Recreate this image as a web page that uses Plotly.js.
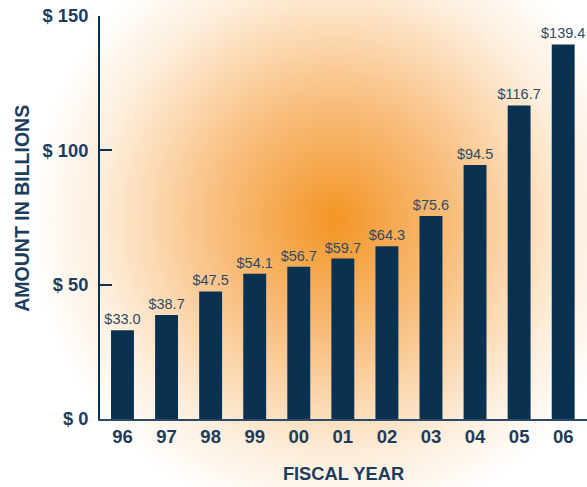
<!DOCTYPE html>
<html>
<head>
<meta charset="utf-8">
<script src="https://cdn.plot.ly/plotly-3.0.1.min.js"></script>
<style>
html,body{margin:0;padding:0;background:#ffffff;}
#chart{width:587px;height:487px;
background: radial-gradient(circle 305px at 335px 220px, #f39524 0%, #f5a548 15%, #f8bd7c 38%, #fbd6ac 58%, #fdeedc 78%, #ffffff 100%);}
</style>
</head>
<body>
<div id="chart"></div>
<script>
const years = ["96","97","98","99","00","01","02","03","04","05","06"];
const amounts = [33.0, 38.7, 47.5, 54.1, 56.7, 59.7, 64.3, 75.6, 94.5, 116.7, 139.4];
const yTickVals = [0, 50, 100, 150];
const yTickText = ["$ 0", "$ 50", "$ 100", "$ 150"];

const navy = "#0b3151";
const textNavy = "#1d3d5c";
const fam = "Liberation Sans, Arial, sans-serif";

const trace = {
  type: "bar",
  x: years,
  y: amounts,
  marker: {color: navy},
  width: 0.52,
  text: amounts.map(v => "$" + v.toFixed(1)),
  textposition: "outside",
  constraintext: "none",
  textfont: {family: fam, size: 14.5, color: "#2d4a66"},
  cliponaxis: false,
  hoverinfo: "skip"
};

const layout = {
  width: 587, height: 487,
  margin: {l: 100, r: 0, t: 15.5, b: 68, pad: 0},
  paper_bgcolor: "rgba(0,0,0,0)",
  plot_bgcolor: "rgba(0,0,0,0)",
  showlegend: false,
  bargap: 0.48,
  xaxis: {
    type: "category",
    range: [-0.51, 10.54],
    showgrid: false,
    zeroline: false,
    showline: true,
    linecolor: "#2c4a68",
    linewidth: 1.5,
    ticks: "",
    tickfont: {family: fam, size: 18.5, color: textNavy, weight: "bold"},
    title: {text: "FISCAL YEAR", standoff: 21,
            font: {family: fam, size: 18.3, color: textNavy, weight: "bold"}}
  },
  yaxis: {
    range: [0, 150],
    tickvals: yTickVals,
    ticktext: yTickText,
    showgrid: false,
    zeroline: false,
    showline: true,
    linecolor: navy,
    linewidth: 2,
    ticks: "inside",
    ticklen: 12,
    tickwidth: 2,
    tickcolor: navy,
    ticklabelstandoff: 6,
    tickfont: {family: fam, size: 18.3, color: textNavy, weight: "bold"}
  },
  annotations: [{
    text: "AMOUNT IN BILLIONS",
    xref: "paper", yref: "paper",
    x: (22.5 - 100) / 487, y: (419 - 208) / 403.5,
    xanchor: "center", yanchor: "middle",
    textangle: -90,
    showarrow: false,
    font: {family: fam, size: 19.5, color: textNavy, weight: "bold"}
  }]
};

Plotly.newPlot("chart", [trace], layout, {displayModeBar: false, staticPlot: true});
</script>
</body>
</html>
